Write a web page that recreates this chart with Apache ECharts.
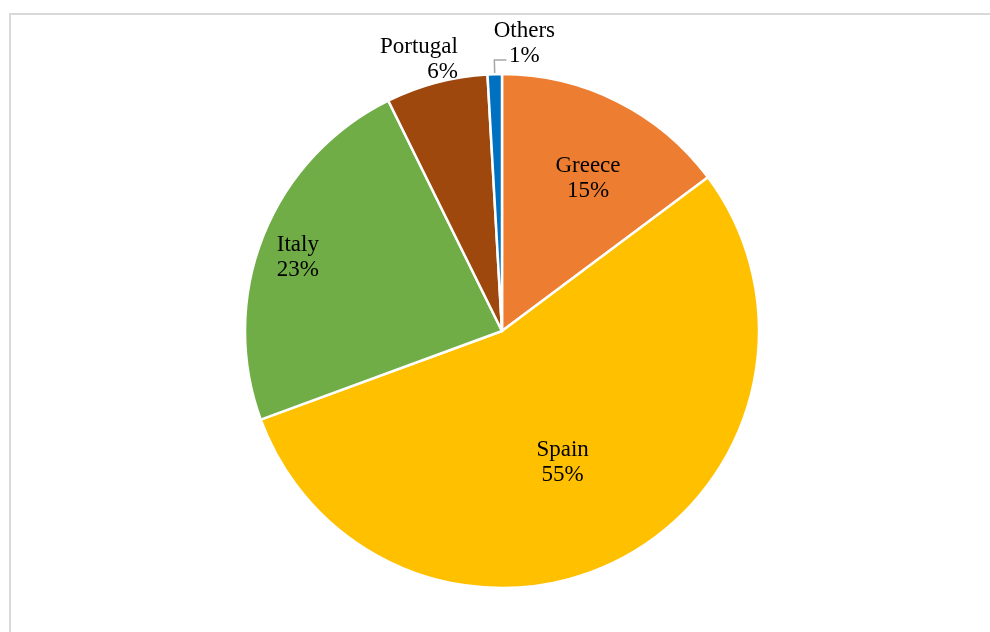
<!DOCTYPE html>
<html>
<head>
<meta charset="utf-8">
<script src="https://cdn.jsdelivr.net/npm/echarts@6/dist/echarts.min.js"></script>
<style>
  html, body { margin: 0; background: #fff; }
  #chart { width: 990px; height: 632px; }
</style>
</head>
<body>
<div id="chart"></div>
<script>
// shares of production by country (%)
const countries = ["Greece", "Spain", "Italy", "Portugal", "Others"];
const shares = [14.8, 54.6, 23.3, 6.4, 0.9];
const colors = ["#ED7D31", "#FFC000", "#70AD47", "#9E480E", "#0070C0"];

// label nudges from the default ECharts label spot, px
const nudges = {
  Greece: [27, -35],
  Spain: [-2, 16],
  Italy: [-82, -25],
  Portugal: [42, -9]
};

const data = countries.map(function (name, i) {
  const outside = name === "Portugal" || name === "Others";
  return {
    name: name,
    value: shares[i],
    itemStyle: { color: colors[i] },
    label: { position: outside ? "outside" : "inside" },
    labelLine: { show: name === "Others" }
  };
});

const option = {
  animation: false,
  graphic: [{
    type: "rect",
    shape: { x: 10, y: 14, width: 1000, height: 700 },
    style: { fill: "none", stroke: "#d9d9d9", lineWidth: 2 },
    silent: true
  }],
  series: [{
    type: "pie",
    center: [502, 331],
    radius: 257,
    startAngle: 90,
    clockwise: true,
    avoidLabelOverlap: false,
    emphasis: { disabled: true },
    itemStyle: { borderColor: "#fff", borderWidth: 2.5 },
    label: {
      fontFamily: "Liberation Serif",
      fontSize: 23,
      lineHeight: 25,
      color: "#000",
      align: "center",
      formatter: function (p) {
        return p.name + "\n" + Math.round(p.percent) + "%";
      }
    },
    labelLine: {
      length: 14,
      length2: 12,
      lineStyle: { color: "#a6a6a6", width: 1.5 }
    },
    labelLayout: function (p) {
      const name = countries[p.dataIndex];
      if (name === "Others" && p.labelLinePoints) {
        const a = p.labelLinePoints[0];
        const b = p.labelLinePoints[1];
        return {
          x: b[0] + 30,
          y: b[1] - 17,
          align: "center",
          verticalAlign: "middle",
          labelLinePoints: [a, b, [b[0] + 12, b[1]]]
        };
      }
      const n = nudges[name] || [0, 0];
      return { dx: n[0], dy: n[1] };
    },
    data: data
  }]
};

const chart = echarts.init(document.getElementById("chart"));
chart.setOption(option);
</script>
</body>
</html>
